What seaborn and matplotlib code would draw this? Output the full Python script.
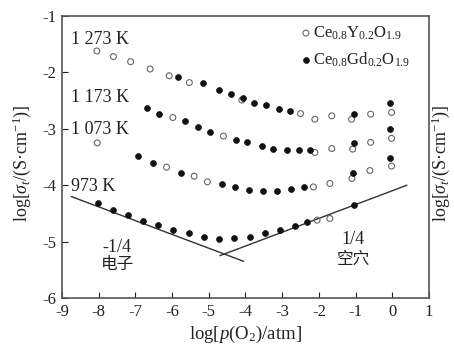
import matplotlib
matplotlib.use("Agg")
import matplotlib.pyplot as plt
import seaborn as sns
import pandas as pd

sns.set_theme(style="white")
plt.rcParams['font.family'] = ['Liberation Serif', 'Noto Sans CJK SC']
plt.rcParams['mathtext.fontset'] = 'custom'
plt.rcParams['mathtext.rm'] = 'Liberation Serif'
plt.rcParams['mathtext.it'] = 'Liberation Serif:italic'
plt.rcParams['axes.unicode_minus'] = False

# Ce0.8Y0.2O1.9 (open circles), per temperature
y_1273_x = [-8.05, -7.6, -7.13, -6.6, -6.08, -5.53, -4.1, -2.5, -2.11, -1.65, -1.11, -0.59, -0.02]
y_1273_v = [-1.62, -1.72, -1.81, -1.94, -2.06, -2.18, -2.49, -2.73, -2.83, -2.77, -2.83, -2.74, -2.71]
y_1173_x = [-5.98, -4.6, -2.11, -1.65, -1.08, -0.59, -0.02]
y_1173_v = [-2.80, -3.13, -3.42, -3.35, -3.36, -3.24, -3.17]
y_1073_x = [-8.04, -6.15, -5.40, -5.04, -2.15, -1.70, -1.10, -0.61, -0.02]
y_1073_v = [-3.25, -3.68, -3.84, -3.94, -4.03, -3.97, -3.88, -3.74, -3.66]
y_973_x = [-2.05, -1.70]
y_973_v = [-4.62, -4.59]

# Ce0.8Gd0.2O1.9 (filled circles), per temperature
gd_1273_x = [-5.83, -5.17, -4.71, -4.4, -4.08, -3.77, -3.44, -3.1, -2.8, -1.04, -0.06]
gd_1273_v = [-2.08, -2.19, -2.31, -2.38, -2.46, -2.54, -2.58, -2.65, -2.68, -2.73, -2.55]
gd_1173_x = [-6.68, -6.35, -5.65, -5.29, -4.97, -4.26, -3.97, -3.56, -3.24, -2.88, -2.53, -2.24, -1.04, -0.06]
gd_1173_v = [-2.64, -2.73, -2.87, -2.96, -3.05, -3.20, -3.23, -3.30, -3.35, -3.38, -3.38, -3.38, -3.25, -3.01]
gd_1073_x = [-6.92, -6.53, -5.77, -4.65, -4.29, -3.9, -3.53, -3.15, -2.77, -2.41, -1.06, -0.06]
gd_1073_v = [-3.49, -3.60, -3.78, -3.98, -4.04, -4.09, -4.10, -4.10, -4.07, -4.03, -3.78, -3.51]
gd_973_x = [-8.01, -7.62, -7.19, -6.78, -6.38, -5.97, -5.53, -5.13, -4.71, -4.31, -3.88, -3.47, -3.06, -2.65, -2.32, -1.04]
gd_973_v = [-4.32, -4.44, -4.53, -4.63, -4.71, -4.79, -4.85, -4.91, -4.95, -4.93, -4.91, -4.85, -4.79, -4.72, -4.65, -4.35]

# slope guide lines
line_n_x = [-8.75, -4.05]
line_n_y = [-4.20, -5.35]
line_p_x = [-4.70, 0.40]
line_p_y = [-5.25, -4.00]

temp_labels = ["1 273 K", "1 173 K", "1 073 K", "973 K"]
temp_label_y = [-1.41, -2.45, -3.02, -4.03]


def build(xs, vs):
    return pd.DataFrame({"x": sum(xs, []), "y": sum(vs, [])})


df_y = build([y_1273_x, y_1173_x, y_1073_x, y_973_x], [y_1273_v, y_1173_v, y_1073_v, y_973_v])
df_gd = build([gd_1273_x, gd_1173_x, gd_1073_x, gd_973_x], [gd_1273_v, gd_1173_v, gd_1073_v, gd_973_v])

fig = plt.figure(figsize=(4.54, 3.45), dpi=100)
ax = fig.add_axes([62 / 454, 1 - 298 / 345, 367 / 454, 282 / 345])

ax.plot(line_n_x, line_n_y, color='#333333', linewidth=1.0)
ax.plot(line_p_x, line_p_y, color='#333333', linewidth=1.0)

sns.scatterplot(data=df_y, x="x", y="y", ax=ax, marker='o', s=18, facecolor='none',
                edgecolor='#666666', linewidth=0.8, label=r'Ce$_{0.8}$Y$_{0.2}$O$_{1.9}$', zorder=3)
sns.scatterplot(data=df_gd, x="x", y="y", ax=ax, marker='o', s=18, color='#111111',
                edgecolor='#111111', linewidth=0.5, label=r'Ce$_{0.8}$Gd$_{0.2}$O$_{1.9}$', zorder=4)

for lab, ty in zip(temp_labels, temp_label_y):
    ax.text(-8.75, ty, lab, fontsize=13, ha='left', va='center', color='#222222')

ax.text(-7.5, -5.10, '-1/4', fontsize=13, ha='center', va='center', color='#222222')
ax.text(-7.5, -5.42, '电子', fontsize=12, ha='center', va='center', color='#222222')
ax.text(-1.07, -4.97, '1/4', fontsize=13, ha='center', va='center', color='#222222')
ax.text(-1.07, -5.32, '空穴', fontsize=12, ha='center', va='center', color='#222222')

ax.set_xlim(-9, 1)
ax.set_ylim(-6, -1)
ax.set_xticks(range(-9, 2))
ax.set_yticks(range(-6, 0))
ax.set_xlabel('')
ax.set_ylabel('')
ax.tick_params(direction='in', length=4, width=0.8, labelsize=12, colors='#222222',
               bottom=True, left=True, top=False, right=False, pad=4)
for sp in ax.spines.values():
    sp.set_color('#555555')
    sp.set_linewidth(1.2)
ax.grid(False)

leg = ax.legend(loc='upper right', bbox_to_anchor=(0.95, 0.97), frameon=False, fontsize=12,
                handletextpad=0.05, handlelength=0.8, borderpad=0, borderaxespad=0, labelspacing=0.5,
                markerscale=1.0)
for t in leg.get_texts():
    t.set_color('#222222')

fig.text(245 / 454, 1 - 334 / 345, r'log[$p$(O$_2$)/atm]', fontsize=13.5, ha='center', va='center', color='#222222')
fig.text(22 / 454, 1 - 163 / 345, r'log[$\sigma_t$/(S·cm$^{-1}$)]', fontsize=13, rotation=90,
         ha='center', va='center', color='#222222')
fig.text(441 / 454, 1 - 163 / 345, r'log[$\sigma_t$/(S·cm$^{-1}$)]', fontsize=13, rotation=90,
         ha='center', va='center', color='#222222')

fig.savefig('out.png', dpi=100)
